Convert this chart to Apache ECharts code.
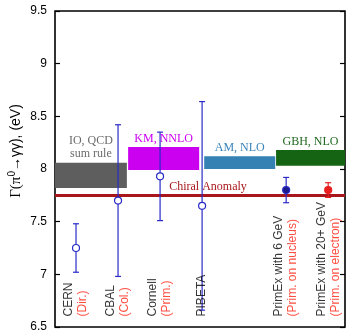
<!DOCTYPE html>
<html><head><meta charset="utf-8">
<script src="https://cdn.jsdelivr.net/npm/echarts@6/dist/echarts.min.js"></script>
<style>html,body{margin:0;padding:0;background:#fff}#c{width:347px;height:333px}</style>
</head><body><div id="c"></div>
<script>
// Measurements
const names = ['CERN', 'CBAL', 'Cornell', 'PIBETA', 'PrimEx with 6 GeV', 'PrimEx with 20+ GeV'];
const methods = ['(Dir.)', '(Col.)', '(Prim.)', '', '(Prim. on nucleus)', '(Prim. on electron)'];
const xPos = [0.5, 1.5, 2.5, 3.5, 5.5, 6.5];
const values = [7.25, 7.70, 7.93, 7.65, 7.80, 7.80];
const errors = [0.23, 0.72, 0.42, 0.99, 0.12, 0.07];
// Theory bands: [label, xStart, xEnd, yLow, yHigh]
const bandLabels = ['IO, QCD\nsum rule', 'KM, NNLO', 'AM, NLO', 'GBH, NLO'];
const bandX = [[0, 1.71], [1.74, 3.43], [3.55, 5.24], [5.26, 6.9]];
const bandY = [[7.82, 8.06], [7.99, 8.21], [8.00, 8.12], [8.03, 8.18]];
const chiral = 7.75;
const yTicks = [6.5, 7, 7.5, 8, 8.5, 9, 9.5];

const bandColors = ['#5e5e5e', '#cc00f0', '#3581b4', '#146414'];
const bandTextColors = ['#6a6a6a', '#cc00f0', '#3a84b8', '#1f6a1f'];
const barColors = ['#2a2ac8', '#2a2ac8', '#2a2ac8', '#2a2ac8', '#2a2ac8', '#e82020'];
const markerFill = ['#fff', '#fff', '#fff', '#fff', '#1a1a8c', '#e82020'];

const chart = echarts.init(document.getElementById('c'));
const serif = 'Liberation Serif';
const sans = 'Liberation Sans';

const errData = xPos.map((x, i) => [x, values[i] - errors[i], values[i] + errors[i], i]);
const ptData = xPos.map((x, i) => ({
  value: [x, values[i]],
  itemStyle: { color: markerFill[i], borderColor: barColors[i], borderWidth: 1.2, opacity: 1 }
}));
const labData = xPos.map((x, i) => ({
  value: [x, 6.6],
  label: {
    formatter: '{a|' + names[i] + '}' + (methods[i] ? '\n{b|' + methods[i] + '}' : '')
  }
}));

chart.setOption({
  animation: false,
  grid: { left: 55, right: 2, top: 11, bottom: 4, show: true, borderColor: '#000', borderWidth: 1.6, backgroundColor: 'transparent' },
  xAxis: { type: 'value', min: 0, max: 6.9, axisLabel: { show: false }, axisTick: { show: false }, splitLine: { show: false }, axisLine: { show: false } },
  yAxis: [
    { type: 'value', min: 6.5, max: 9.5, interval: 0.5, splitLine: { show: false },
      axisLine: { show: false }, axisTick: { inside: true, length: 5, lineStyle: { color: '#000', width: 1.2 } },
      axisLabel: { color: '#000', fontFamily: sans, fontSize: 12, margin: 8, formatter: v => String(v) } },
    { type: 'value', position: 'right', min: 6.5, max: 9.5, interval: 0.5, splitLine: { show: false },
      axisLine: { show: false }, axisTick: { inside: true, length: 5, lineStyle: { color: '#000', width: 1.2 } },
      axisLabel: { show: false } }
  ],
  graphic: [{
    type: 'text', x: 16, y: 151, rotation: Math.PI / 2,
    style: {
      text: '{s|Γ(π}{u|0}{t|→γγ), (eV)}',
      align: 'center', verticalAlign: 'middle',
      rich: {
        s: { fontFamily: serif, fontSize: 15, fill: '#000' },
        u: { fontFamily: sans, fontSize: 10, fill: '#000', verticalAlign: 'top', padding: [0, 0, 8, 0] },
        t: { fontFamily: sans, fontSize: 14, fill: '#000' }
      }
    }
  }],
  series: [
    {
      type: 'line', data: [], silent: true,
      markArea: {
        silent: true,
        data: bandLabels.map((l, i) => [
          { xAxis: bandX[i][0], yAxis: bandY[i][0], itemStyle: { color: bandColors[i], opacity: 1 },
            label: { show: true, position: 'top', distance: 2, formatter: l, color: bandTextColors[i], fontFamily: serif, fontSize: 12, lineHeight: 13 } },
          { xAxis: bandX[i][1], yAxis: bandY[i][1] }
        ])
      }
    },
    {
      type: 'line', data: [], silent: true,
      markLine: {
        silent: true, symbol: 'none',
        lineStyle: { color: '#a8161c', width: 3, type: 'solid' },
        label: { show: true, position: 'insideMiddleTop', formatter: 'Chiral Anomaly', color: '#a8161c', fontFamily: serif, fontSize: 12, padding: [0, 0, 0, 16], distance: 2 },
        data: [{ yAxis: chiral }]
      }
    },
    {
      type: 'custom', data: errData, z: 5,
      renderItem: (params, api) => {
        const x = api.value(0), i = api.value(3);
        const lo = api.coord([x, api.value(1)]);
        const hi = api.coord([x, api.value(2)]);
        const c = barColors[i];
        const st = { stroke: c, lineWidth: 1.2 };
        return { type: 'group', children: [
          { type: 'line', shape: { x1: lo[0], y1: lo[1], x2: hi[0], y2: hi[1] }, style: st },
          { type: 'line', shape: { x1: lo[0] - 3, y1: lo[1], x2: lo[0] + 3, y2: lo[1] }, style: st },
          { type: 'line', shape: { x1: hi[0] - 3, y1: hi[1], x2: hi[0] + 3, y2: hi[1] }, style: st }
        ] };
      }
    },
    { type: 'scatter', data: ptData, symbol: 'circle', symbolSize: 7, z: 6, itemStyle: { opacity: 1 } },
    {
      type: 'scatter', data: labData, symbolSize: 0, z: 7, silent: true,
      label: {
        show: true, position: 'inside', rotate: 90, align: 'left', verticalAlign: 'middle',
        rich: {
          a: { fontFamily: sans, fontSize: 12, color: '#000', lineHeight: 14, align: 'left' },
          b: { fontFamily: sans, fontSize: 12, color: '#ff2010', lineHeight: 14, align: 'left' }
        }
      }
    }
  ]
});
</script></body></html>
